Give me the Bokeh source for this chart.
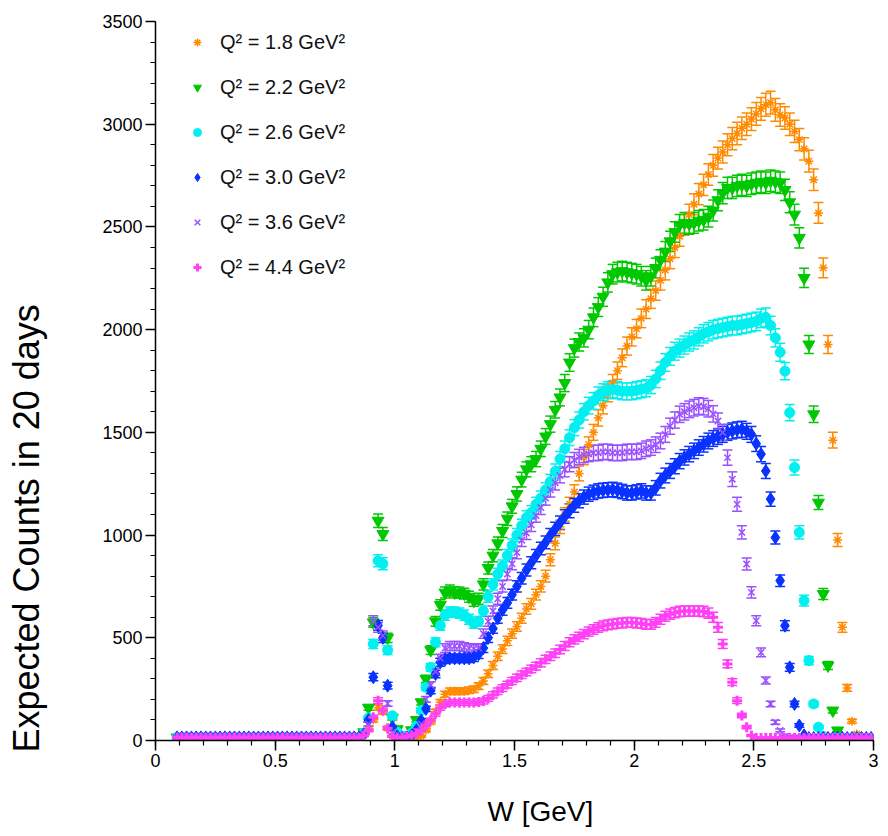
import math
from bokeh.plotting import figure
from bokeh.models import (ColumnDataSource, Whisker, TeeHead, Legend, LegendItem, Range1d,
                          SingleIntervalTicker, CustomJSTickFormatter, Title)
from bokeh.embed import file_html
from bokeh.resources import INLINE

# bin centres in W [GeV]
W = [round(0.09 + 0.02 * i, 2) for i in range(146)]

LOW = [15, 15, 15, 15, 15, 15, 15, 15, 15, 15, 15, 15, 15,
       15, 15, 15, 15, 15, 15, 15, 15, 15, 15, 15, 15, 15,
       15, 15, 15, 15, 15, 15, 15, 15, 15, 15, 15, 15, 15]  # W 0.09 .. 0.85

q18 = LOW + [
    25, 60, 100, 160, 140, 60, 20, 15, 12, 12, 12, 15,
    20, 50, 90, 140, 186, 225, 240, 240, 240, 240,
    245, 250, 265, 290, 325, 365, 410, 445, 485, 520,
    555, 595, 640, 665, 710, 750, 800, 880, 960, 1040,
    1100, 1150, 1210, 1300, 1380, 1440, 1500, 1570, 1630, 1690,
    1740, 1800, 1863, 1920, 1965, 2005, 2055, 2100, 2150, 2190,
    2240, 2290, 2345, 2400, 2455, 2510, 2560, 2610, 2660, 2705,
    2755, 2800, 2835, 2865, 2900, 2930, 2955, 2980, 3000, 3025,
    3050, 3075, 3095, 3105, 3070, 3045, 3030, 3000, 2965, 2925,
    2880, 2820, 2730, 2568, 2301, 1928, 1462, 976, 551, 256,
    94, 32, 15, 12, 12]

q22 = LOW + [
    40, 160, 575, 1070, 1005, 500, 110, 55, 25, 25, 50, 100,
    186, 300, 440, 580, 660, 720, 730, 720, 720, 715,
    700, 680, 690, 760, 840, 900, 960, 1020, 1080, 1140,
    1200, 1270, 1320, 1345, 1370, 1420, 1480, 1540, 1610, 1670,
    1740, 1840, 1910, 1940, 1960, 2000, 2060, 2110, 2160, 2230,
    2270, 2280, 2285, 2280, 2275, 2270, 2260, 2240, 2260, 2300,
    2340, 2380, 2430, 2475, 2510, 2520, 2515, 2520, 2530, 2535,
    2550, 2580, 2630, 2665, 2690, 2690, 2700, 2705, 2700, 2710,
    2715, 2720, 2715, 2725, 2720, 2715, 2680, 2620, 2560, 2447,
    2252, 1928, 1588, 1158, 713, 365, 146, 49, 15, 12,
    12, 12, 12, 12, 12]

q26 = LOW + [
    35, 110, 470, 875, 860, 440, 120, 40, 20, 20, 35, 70,
    146, 259, 356, 478, 560, 610, 625, 625, 620, 610,
    590, 570, 580, 630, 700, 760, 810, 850, 900, 950,
    1000, 1045, 1085, 1110, 1150, 1180, 1220, 1260, 1310, 1370,
    1420, 1474, 1523, 1560, 1600, 1630, 1653, 1680, 1695, 1705,
    1710, 1705, 1700, 1700, 1700, 1705, 1710, 1715, 1730, 1760,
    1800, 1840, 1870, 1895, 1910, 1925, 1940, 1950, 1965, 1980,
    1990, 2000, 2005, 2010, 2015, 2020, 2020, 2025, 2030, 2035,
    2040, 2055, 2060, 2020, 1960, 1890, 1798, 1596, 1329, 1013,
    681, 389, 178, 65, 20, 12, 12, 12, 12, 12,
    12, 12, 12, 12, 12]

q30 = LOW + [
    30, 100, 308, 560, 500, 267, 65, 20, 12, 15, 25, 50,
    97, 154, 243, 324, 381, 395, 400, 400, 400, 400,
    400, 405, 420, 450, 500, 545, 595, 635, 670, 710,
    750, 790, 830, 865, 900, 935, 965, 1000, 1030, 1060,
    1090, 1118, 1145, 1167, 1185, 1199, 1208, 1215, 1218, 1220,
    1222, 1218, 1212, 1205, 1205, 1210, 1215, 1205, 1205, 1230,
    1265, 1290, 1312, 1335, 1360, 1378, 1394, 1410, 1426, 1442,
    1458, 1470, 1480, 1490, 1500, 1507, 1512, 1515, 1505, 1490,
    1445, 1394, 1312, 1175, 988, 778, 559, 356, 178, 73,
    25, 12, 12, 12, 12, 12, 12, 12, 12, 12,
    12, 12, 12, 12, 12]

q36 = LOW + [
    30, 80, 583, 551, 510, 180, 40, 15, 12, 15, 25, 45,
    80, 200, 270, 335, 400, 450, 460, 460, 460, 455,
    450, 445, 450, 520, 580, 630, 690, 750, 810, 860,
    915, 975, 1010, 1050, 1095, 1134, 1180, 1220, 1255, 1290,
    1320, 1345, 1365, 1380, 1390, 1395, 1400, 1400, 1405, 1405,
    1400, 1400, 1400, 1405, 1405, 1405, 1410, 1420, 1426, 1440,
    1458, 1490, 1530, 1560, 1588, 1600, 1612, 1620, 1628, 1625,
    1615, 1590, 1555, 1499, 1377, 1272, 1150, 1013, 859, 721,
    583, 429, 292, 178, 89, 49, 20, 12, 12, 12,
    12, 12, 12, 12, 12, 12, 12, 12, 12, 12,
    12, 12, 12, 12, 12]

q44 = LOW + [
    25, 50, 113, 194, 146, 60, 20, 15, 15, 20, 25, 35,
    49, 75, 100, 130, 160, 178, 185, 185, 185, 185,
    185, 185, 188, 192, 205, 222, 240, 255, 272, 290,
    305, 320, 333, 348, 362, 378, 395, 410, 425, 443,
    460, 478, 492, 505, 518, 530, 540, 550, 558, 563,
    567, 570, 572, 575, 575, 572, 570, 565, 565, 575,
    590, 605, 615, 622, 628, 630, 630, 630, 630, 628,
    620, 600, 551, 470, 373, 284, 194, 122, 65, 24,
    12, 12, 12, 12, 12, 12, 12, 12, 12, 12,
    12, 12, 12, 12, 12, 12, 12, 12, 12, 12,
    12, 12, 12, 12, 12]

labels = ["Q\u00b2 = 1.8 GeV\u00b2", "Q\u00b2 = 2.2 GeV\u00b2", "Q\u00b2 = 2.6 GeV\u00b2",
          "Q\u00b2 = 3.0 GeV\u00b2", "Q\u00b2 = 3.6 GeV\u00b2", "Q\u00b2 = 4.4 GeV\u00b2"]
colors = ["#FF8A00", "#00C800", "#00F0F0", "#0A32FF", "#9A50FF", "#FF40F5"]

FONT = "Liberation Sans"

p = figure(width=888, height=836, x_range=Range1d(0, 3), y_range=Range1d(0, 3500),
           output_backend="svg", toolbar_location=None,
           min_border_left=155, min_border_right=15, min_border_top=21, min_border_bottom=96)
p.outline_line_color = None
p.grid.visible = False
p.background_fill_color = "white"

p.xaxis.ticker = SingleIntervalTicker(interval=0.5, num_minor_ticks=5)
p.yaxis.ticker = SingleIntervalTicker(interval=500, num_minor_ticks=5)
p.xaxis.formatter = CustomJSTickFormatter(code="return String(Math.round(tick*10)/10)")
for ax in (p.xaxis[0], p.yaxis[0]):
    ax.axis_line_color = "black"
    ax.axis_line_width = 1.5
    ax.major_tick_line_color = "black"
    ax.major_tick_line_width = 1.5
    ax.minor_tick_line_color = "black"
    ax.minor_tick_line_width = 1.2
    ax.major_tick_in = 0
    ax.major_tick_out = 10
    ax.minor_tick_in = 0
    ax.minor_tick_out = 5
    ax.major_label_text_font = FONT
    ax.major_label_text_font_size = "18px"
    ax.major_label_text_color = "black"
    ax.major_label_standoff = 3

# axis titles as side titles (spacers first, so the titles sit where the original has them)
p.add_layout(Title(text="\u00a0", standoff=40, text_font_size="10px"), "left")
p.add_layout(Title(text="Expected Counts in 20 days", align="left", offset=-12,
                   standoff=0, text_font=FONT, text_font_size="36px",
                   text_font_style="normal", text_color="black"), "left")
p.add_layout(Title(text="\u00a0", standoff=11, text_font_size="10px"), "below")
p.add_layout(Title(text="W [GeV]", align="left", offset=332,
                   standoff=0, text_font=FONT, text_font_size="28px",
                   text_font_style="normal", text_color="black"), "below")

order = [(q18, "asterisk", 9, 1.5), (q22, "inverted_triangle", 12, 1),
         (q26, "circle", 10, 1), (q30, "diamond", 13, 1),
         (q36, "x", 9, 1.5), (q44, "cross", 10, 3)]

items = []
for (vals, marker, size, lw), lab, col in zip(order, labels, colors):
    err = [math.sqrt(v) for v in vals]
    src = ColumnDataSource(dict(W=W, n=vals,
                                lo=[v - e for v, e in zip(vals, err)],
                                hi=[v + e for v, e in zip(vals, err)]))
    wh = Whisker(base="W", lower="lo", upper="hi", source=src,
                 line_color=col, line_width=1.5,
                 upper_head=TeeHead(size=10, line_color=col, line_width=1.5),
                 lower_head=TeeHead(size=10, line_color=col, line_width=1.5))
    p.add_layout(wh)
    r = p.scatter("W", "n", source=src, marker=marker, size=size,
                  fill_color=col, line_color=col, line_width=lw)
    items.append(LegendItem(label=lab, renderers=[r]))

legend = Legend(items=items, location=(32, 461), padding=0, margin=0,
                glyph_width=20, glyph_height=24, label_height=24, spacing=21,
                label_standoff=13, label_text_font=FONT, label_text_font_size="20px",
                label_text_color="#111111",
                border_line_color=None, background_fill_alpha=0)
p.add_layout(legend)

open("out.html", "w").write(file_html(p, INLINE))
